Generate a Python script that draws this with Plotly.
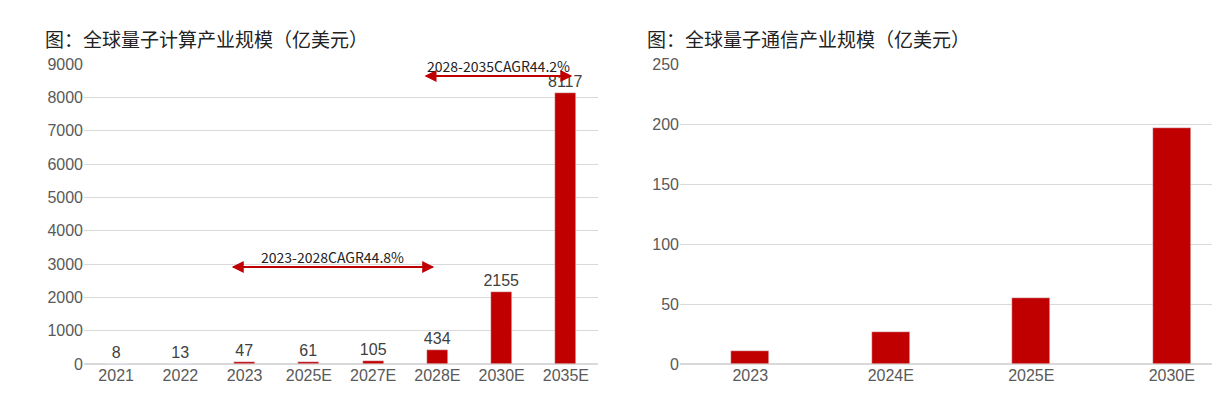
import plotly.graph_objects as go

comp_years = ["2021", "2022", "2023", "2025E", "2027E", "2028E", "2030E", "2035E"]
comp_values = [8, 13, 47, 61, 105, 434, 2155, 8117]
comm_years = ["2023", "2024E", "2025E", "2030E"]
comm_values = [11, 27, 55, 197]

red = "#C00000"
grey = "#595959"
W, H = 1220, 401

fig = go.Figure()
fig.add_trace(go.Bar(x=comp_years, y=comp_values, marker_color=red, width=0.33,
                     text=comp_values, textposition="outside", cliponaxis=False,
                     constraintext="none",
                     textfont=dict(size=16, color="#404040", family="Liberation Sans, Arial"),
                     xaxis="x", yaxis="y"))
fig.add_trace(go.Bar(x=comm_years, y=comm_values, marker_color=red, width=0.27,
                     xaxis="x2", yaxis="y2"))

axis_common = dict(showline=False, ticks="",
                   tickfont=dict(size=16, color=grey, family="Liberation Sans, Arial"))
fig.update_layout(
    width=W, height=H, plot_bgcolor="white", paper_bgcolor="white",
    margin=dict(l=0, r=0, t=56, b=45), showlegend=False, bargap=0,
    font=dict(family="Noto Sans CJK SC, Arial"),
    xaxis=dict(domain=[76 / W, 590 / W], type="category", range=[-0.5, 7.5], **axis_common),
    yaxis=dict(range=[0, 9000], dtick=1000, gridcolor="#d9d9d9", zeroline=True,
               zerolinecolor="#d9d9d9", anchor="x", **axis_common),
    xaxis2=dict(domain=[672 / W, 1.0], type="category", range=[-0.5, 3.4],
                anchor="y2", **axis_common),
    yaxis2=dict(range=[0, 250], dtick=50, gridcolor="#d9d9d9", zeroline=True,
                zerolinecolor="#d9d9d9", anchor="x2", **axis_common),
)

title_font = dict(size=19, color="#222", family="Noto Sans CJK SC")
fig.add_annotation(text="图：全球量子计算产业规模（亿美元）", xref="paper", yref="paper",
                   x=35 / W, y=1.0, yshift=26, xanchor="left", yanchor="middle",
                   showarrow=False, font=title_font)
fig.add_annotation(text="图：全球量子通信产业规模（亿美元）", xref="paper", yref="paper",
                   x=637 / W, y=1.0, yshift=26, xanchor="left", yanchor="middle",
                   showarrow=False, font=title_font)

# CAGR arrows
for x0, x1, yv, label in [(1.8, 4.95, 2910, "2023-2028CAGR44.8%"),
                          (4.8, 7.1, 8640, "2028-2035CAGR44.2%")]:
    for a, b in [(x0, x1), (x1, x0)]:
        fig.add_annotation(x=b, y=yv, ax=a, ay=yv, xref="x", yref="y", axref="x", ayref="y",
                           showarrow=True, arrowhead=2, arrowsize=1.2, arrowwidth=2,
                           arrowcolor=red, text="")
    fig.add_annotation(x=(x0 + x1) / 2, y=yv, xref="x", yref="y", text=label, showarrow=False,
                       yshift=10, font=dict(size=14, color="#222"))

fig.write_html("out.html")
